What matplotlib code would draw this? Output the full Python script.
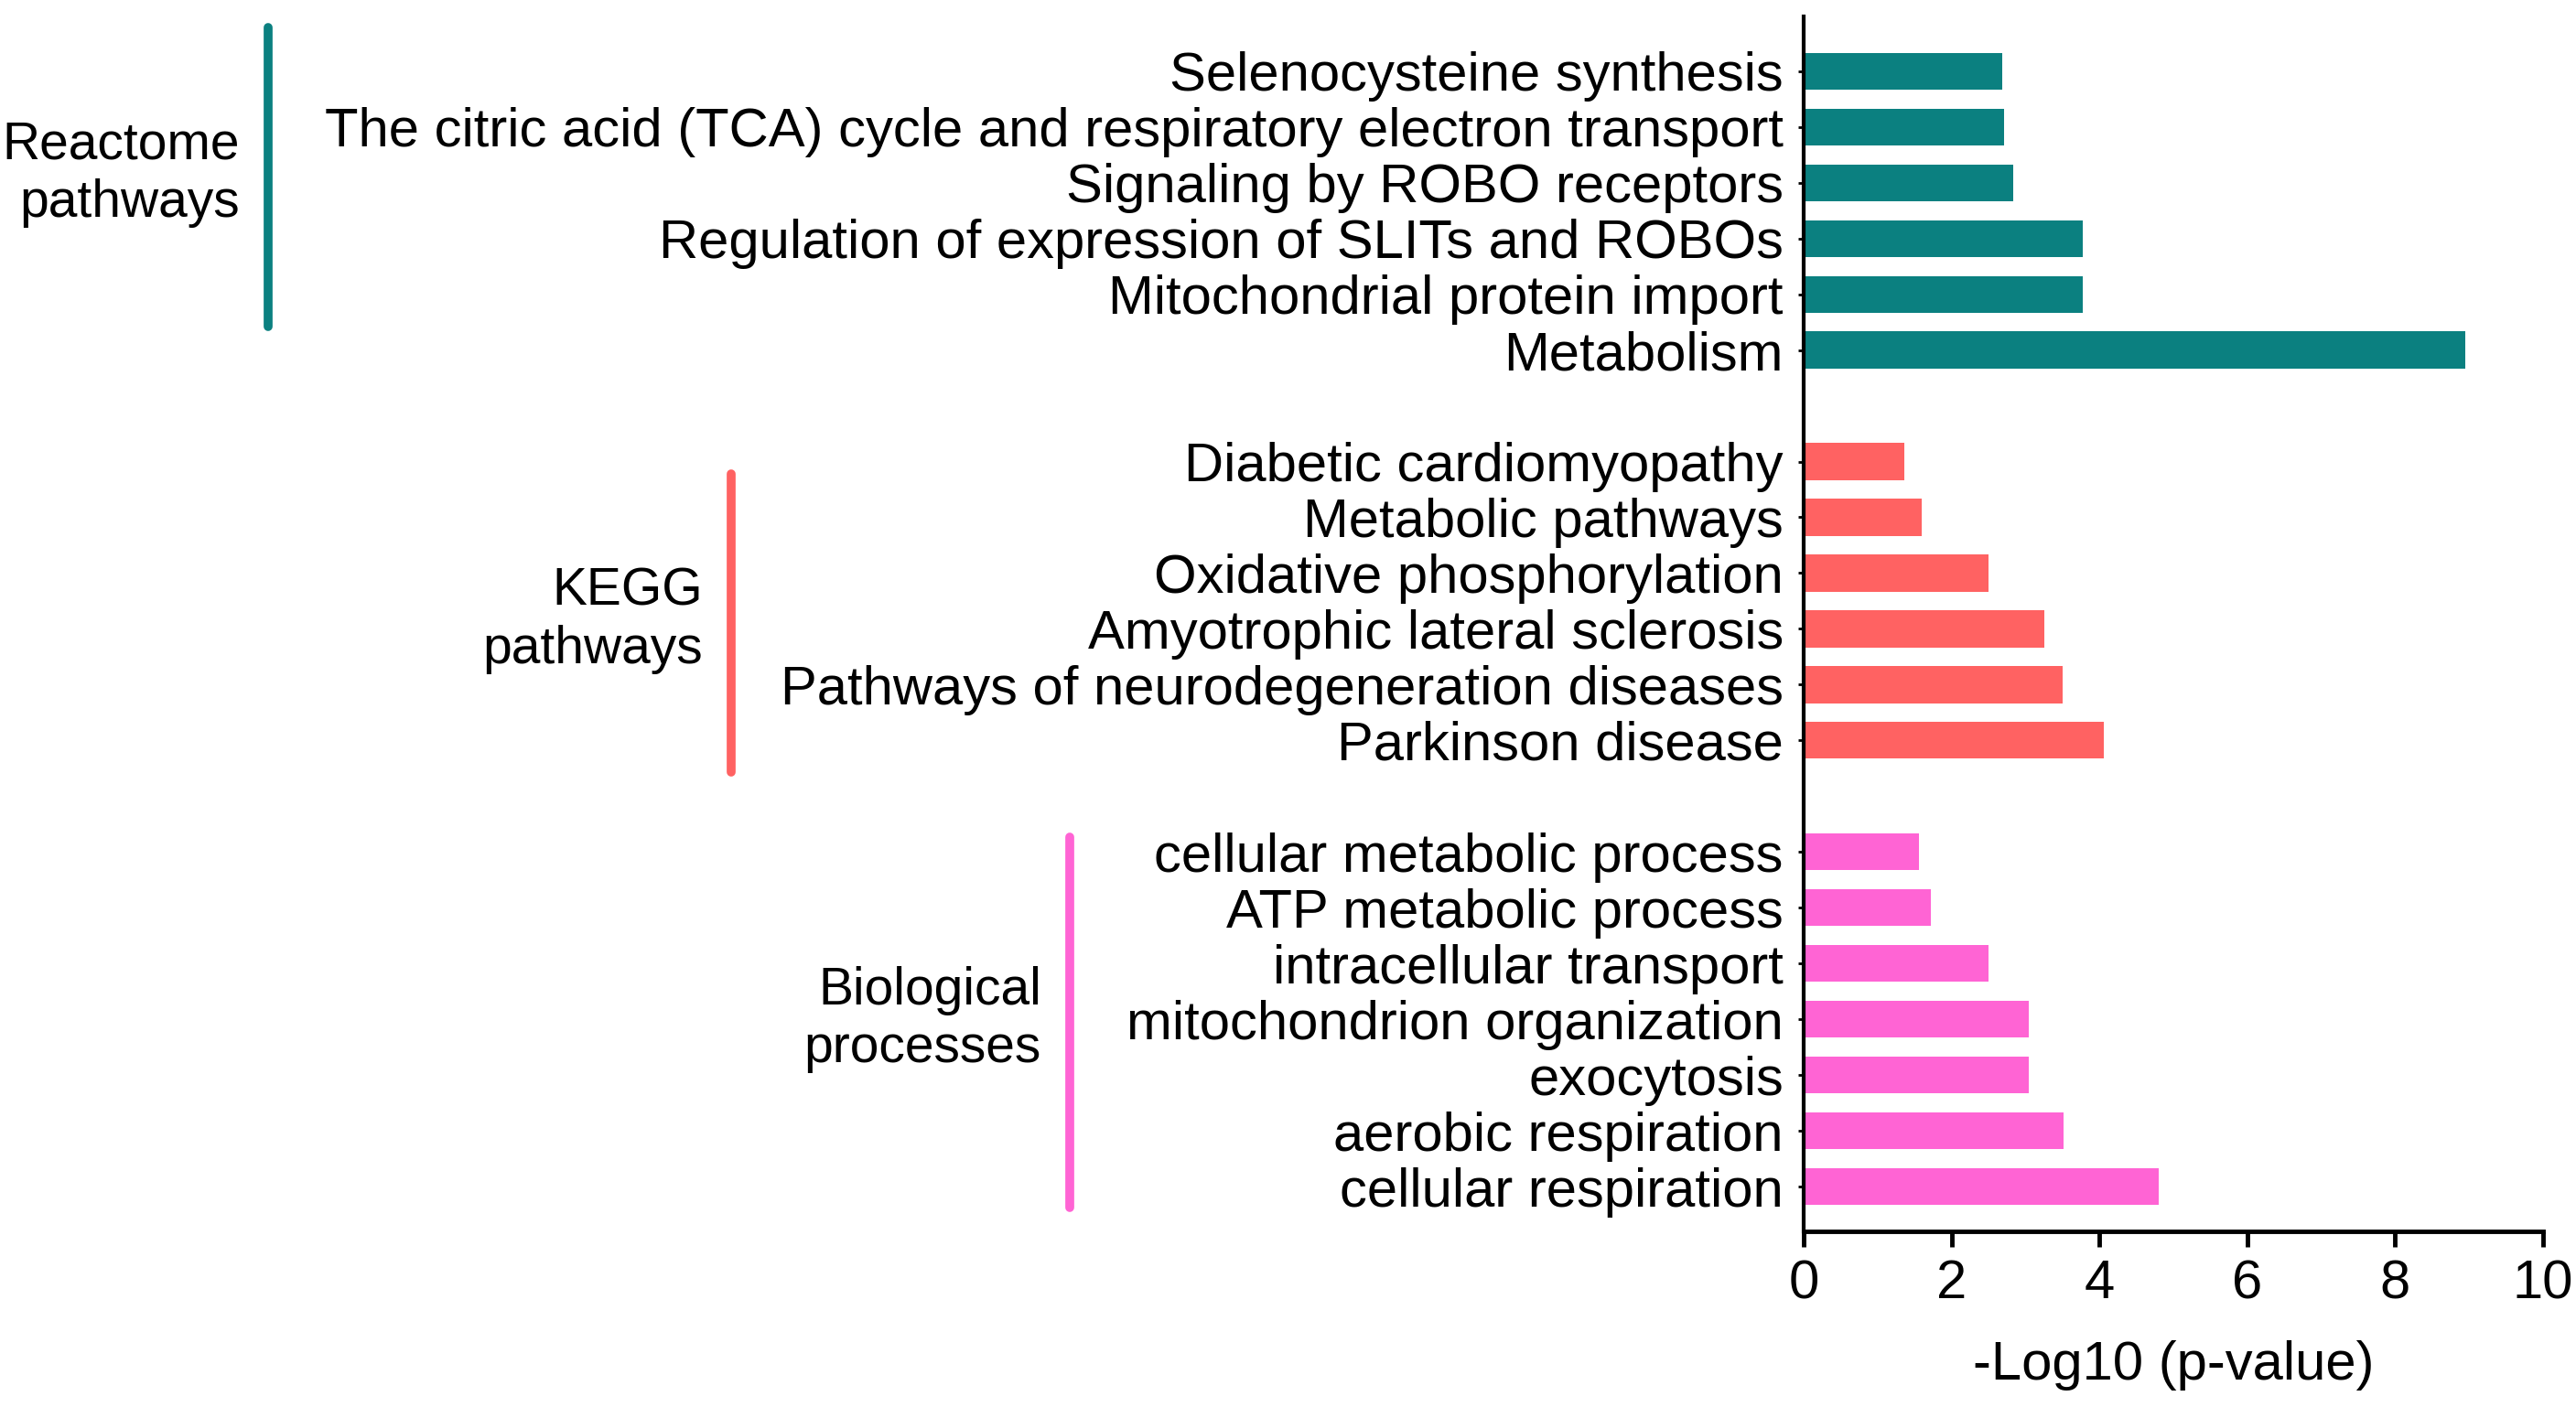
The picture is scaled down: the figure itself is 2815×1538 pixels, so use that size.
import numpy as np
import matplotlib.pyplot as plt
import matplotlib.transforms as mtransforms

plt.rcParams['font.family'] = ['Liberation Sans', 'DejaVu Sans']

# data, top to bottom within each group
reactome_terms = [
    "Selenocysteine synthesis",
    "The citric acid (TCA) cycle and respiratory electron transport",
    "Signaling by ROBO receptors",
    "Regulation of expression of SLITs and ROBOs",
    "Mitochondrial protein import",
    "Metabolism",
]
reactome_vals = [2.68, 2.71, 2.83, 3.77, 3.77, 8.95]

kegg_terms = [
    "Diabetic cardiomyopathy",
    "Metabolic pathways",
    "Oxidative phosphorylation",
    "Amyotrophic lateral sclerosis",
    "Pathways of neurodegeneration diseases",
    "Parkinson disease",
]
kegg_vals = [1.36, 1.59, 2.50, 3.26, 3.50, 4.06]

bio_terms = [
    "cellular metabolic process",
    "ATP metabolic process",
    "intracellular transport",
    "mitochondrion organization",
    "exocytosis",
    "aerobic respiration",
    "cellular respiration",
]
bio_vals = [1.56, 1.72, 2.50, 3.05, 3.05, 3.52, 4.80]

groups = [
    ("Reactome\npathways", reactome_terms, reactome_vals, "#0b8080"),
    ("KEGG\npathways", kegg_terms, kegg_vals, "#ff6262"),
    ("Biological\nprocesses", bio_terms, bio_vals, "#ff64d4"),
]

xticks = [0, 2, 4, 6, 8, 10]

fig = plt.figure(figsize=(28.15, 15.38), dpi=100)
ax = fig.add_axes([0.7002, 0.1249, 0.2870, 0.8634])

fs = 43
ypos = []
labels = []
start = 0
spans = []
for name, terms, vals, color in groups:
    y = np.arange(start, start + len(terms))
    ax.barh(y, vals, height=0.66, color=color)
    ypos.extend(y)
    labels.extend(terms)
    spans.append((y[0], y[-1]))
    start = y[-1] + 2

ax.set_ylim(20.8, -0.98)
ax.set_xlim(0, 10)
ax.set_yticks(ypos)
ax.set_yticklabels(labels, fontsize=fs)
ax.set_xticks(xticks)
ax.set_xticklabels([str(t) for t in xticks], fontsize=fs)
ax.tick_params(axis='y', length=4, width=2, pad=12)
ax.tick_params(axis='x', length=12, width=3.5, pad=10)
ax.set_xlabel("-Log10 (p-value)", fontsize=fs, labelpad=24)

for s in ["top", "right"]:
    ax.spines[s].set_visible(False)
ax.spines["left"].set_linewidth(3.0)
ax.spines["bottom"].set_linewidth(3.5)

# group brackets and labels, x in figure coords, y in data coords
trans = mtransforms.blended_transform_factory(fig.transFigure, ax.transData)
line_x = [293 / 2815, 799 / 2815, 1169 / 2815]
line_off = [(-0.79, -0.42), (0.22, 0.57), (-0.26, 0.38)]
for (name, terms, vals, color), lx, (o0, o1), (y0, y1) in zip(groups, line_x, line_off, spans):
    ln = plt.Line2D([lx, lx], [y0 + o0, y1 + o1], transform=trans, color=color,
                    lw=7, solid_capstyle='round', clip_on=False)
    fig.add_artist(ln)
    ymid = (y0 + o0 + y1 + o1) / 2 - 0.05
    fig.text(lx - 31 / 2815, ymid, name, transform=trans, fontsize=41, ha='right',
             va='center', linespacing=1.22)

fig.savefig("out.png", dpi=100)
